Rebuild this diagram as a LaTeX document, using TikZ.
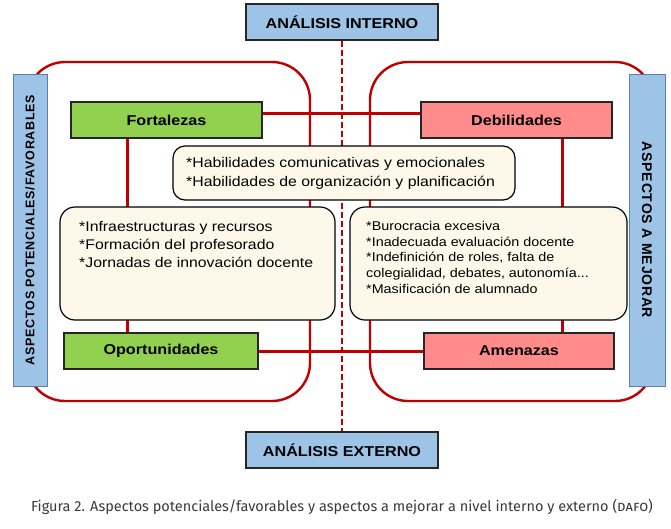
\documentclass[tikz,border=0pt]{standalone}
\usepackage{fontspec}
\setmainfont{Liberation Sans}[FakeStretch=1.13]
\newfontfamily\sidefontL{Liberation Sans}[LetterSpace=6]
\newfontfamily\sidefontR{Liberation Sans}[LetterSpace=5.5]
\newfontfamily\capfont{Fira Sans}
\usetikzlibrary{calc,backgrounds}
\definecolor{dred}{HTML}{C00000}
\definecolor{lblue}{HTML}{9DC3E6}
\definecolor{bblue}{HTML}{5B7DB1}
\definecolor{lgreen}{HTML}{92D050}
\definecolor{lpink}{HTML}{FF8B8B}
\definecolor{cream}{HTML}{FDF8EA}
\definecolor{capgray}{HTML}{3A3A3A}
\tikzset{
  frame/.style={draw=dred, line width=2.4pt, rounded corners=38pt},
  link/.style={draw=dred, line width=3pt},
  axisline/.style={draw=dred, line width=2pt, dash pattern=on 6pt off 3pt},
  hdr/.style={draw=black!85, line width=1.2pt, inner sep=0pt,
    font=\bfseries\fontsize{14.3}{16}\selectfont},
  analysis/.style={hdr, fill=lblue, minimum width=192, minimum height=36},
  quad/.style={hdr, minimum height=36},
  note/.style={draw=black, line width=1.2pt, fill=cream, rounded corners=12pt, inner sep=0pt},
  notetext/.style={anchor=north west, align=left, inner sep=0pt},
  side/.style={draw=bblue, line width=1pt, fill=lblue, inner sep=0pt, minimum width=312},
}
\begin{document}
\begin{tikzpicture}[x=1pt,y=-1pt]
\useasboundingbox (0,0) rectangle (671,528);

% axis boxes
\node[analysis] (top) at (342,22) {ANÁLISIS INTERNO};
\node[analysis] (bot) at (342,450) {ANÁLISIS EXTERNO};

% quadrant headers
\node[quad, fill=lgreen, minimum width=191] (fort) at (166.5,120) {Fortalezas};
\node[quad, fill=lpink, minimum width=191] (deb) at (516.5,120) {Debilidades};
\node[quad, fill=lgreen, minimum width=194] (opor) at (161,351) {Oportunidades};
\node[quad, fill=lpink, minimum width=190] (amen) at (519,351) {Amenazas};

% side labels
\node[side, rotate=90, minimum height=34] (lside) at (30,230)
  {\sidefontL\bfseries\fontsize{12.5}{14}\selectfont ASPECTOS POTENCIALES/FAVORABLES};
\node[side, rotate=-90, minimum height=36] (rside) at (647,230)
  {\sidefontR\bfseries\fontsize{14}{16}\selectfont ASPECTOS A MEJORAR};

% content boxes
\node[note, minimum width=342, minimum height=54] (hab) at (344,173) {};
\node[notetext, font=\fontsize{14}{19}\selectfont] (habt) at (186,157.5)
  {*Habilidades comunicativas y emocionales\\*Habilidades de organización y planificación};

\node[note, rounded corners=15pt, minimum width=275, minimum height=113] (infra) at (197.5,263.5) {};
\node[notetext, font=\fontsize{14}{18}\selectfont] (infrat) at (79,221.5)
  {*Infraestructuras y recursos\\*Formación del profesorado\\*Jornadas de innovación docente};

\node[note, rounded corners=15pt, minimum width=277, minimum height=113] (buro) at (488.5,263.5) {};
\node[notetext, font=\fontsize{12.7}{15.75}\selectfont] (burot) at (366,221)
  {*Burocracia excesiva\\*Inadecuada evaluación docente\\*Indefinición de roles, falta de\\colegialidad, debates, autonomía...\\*Masificación de alumnado};

% caption
\node[font=\capfont\fontsize{14.5}{17}\selectfont, text=capgray, inner sep=0pt] (cap) at (342,507)
  {Figura 2. Aspectos potenciales/favorables y aspectos a mejorar a nivel interno y externo (\textsc{dafo})};

\begin{scope}[on background layer]
  \draw[frame] (27,62) rectangle (310,401);
  \draw[frame] (370,62) rectangle (653,401);
  \draw[axisline] (top.south) -- (bot.north);
  \draw[link] ([yshift=7pt]fort.east) -- ([yshift=7pt]deb.west);
  \draw[link] (opor.east) -- (amen.west);
  \coordinate (vl) at (127,0);
  \coordinate (vr) at (562,0);
  \draw[link] (fort.south -| vl) -- (opor.north -| vl);
  \draw[link] (deb.south -| vr) -- (amen.north -| vr);
\end{scope}
\end{tikzpicture}
\end{document}
